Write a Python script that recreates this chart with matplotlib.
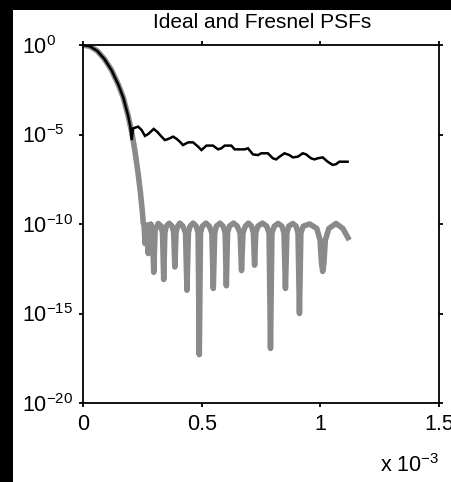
import numpy as np
import matplotlib
matplotlib.use("Agg")
import matplotlib.pyplot as plt
from matplotlib.patches import Rectangle

plt.rcParams['font.family'] = ['Liberation Sans', 'DejaVu Sans']
plt.rcParams['mathtext.default'] = 'regular'

# Radial position (units of 1e-3) and log10 of the normalised intensity
ideal_x = [0.000, 0.030, 0.060, 0.090, 0.120, 0.150, 0.170, 0.190, 0.205,
           0.218, 0.232, 0.242, 0.250, 0.254,
           0.257, 0.262, 0.267, 0.271, 0.275, 0.280, 0.286, 0.292, 0.298,
           0.304, 0.317, 0.329, 0.335, 0.340, 0.345, 0.351, 0.363, 0.375,
           0.382, 0.387, 0.392, 0.399, 0.408, 0.421, 0.432, 0.438, 0.444,
           0.451, 0.464, 0.477, 0.485, 0.490, 0.495, 0.503, 0.518, 0.532,
           0.543, 0.549, 0.555, 0.562, 0.577, 0.590, 0.599, 0.604, 0.609,
           0.617, 0.634, 0.650, 0.662, 0.668, 0.674, 0.684, 0.697, 0.710,
           0.718, 0.723, 0.728, 0.737, 0.756, 0.774, 0.784, 0.790, 0.796,
           0.806, 0.822, 0.838, 0.847, 0.853, 0.859, 0.867, 0.884, 0.898,
           0.906, 0.912, 0.918, 0.928, 0.955, 0.985, 0.999, 1.005, 1.010,
           1.015, 1.021, 1.036, 1.066, 1.095, 1.122]
ideal_log = [0.00, -0.08, -0.33, -0.78, -1.40, -2.25, -2.95, -3.95, -4.85,
             -5.85, -7.15, -8.25, -9.30, -9.95,
             -10.05, -11.10, -10.15, -10.05, -11.65, -10.25, -10.00, -10.30, -12.70,
             -10.35, -9.97, -10.12, -10.50, -13.10, -10.50, -10.12, -9.96, -10.12,
             -10.45, -12.40, -10.45, -10.12, -9.95, -10.12, -10.50, -13.70, -10.50,
             -10.12, -9.95, -10.12, -10.50, -17.30, -10.50, -10.12, -9.95, -10.12,
             -10.50, -13.60, -10.50, -10.12, -9.95, -10.12, -10.50, -13.45, -10.50,
             -10.12, -9.95, -10.12, -10.50, -12.60, -10.50, -10.12, -9.95, -10.12,
             -10.50, -12.30, -10.50, -10.12, -9.95, -10.12, -10.50, -16.95, -10.50,
             -10.12, -9.97, -10.12, -10.50, -13.60, -10.50, -10.12, -9.97, -10.12,
             -10.50, -15.00, -10.50, -10.12, -10.00, -10.25, -10.90, -12.20, -12.65,
             -12.20, -10.90, -10.25, -9.97, -10.25, -10.90]

fresnel_x = [0.000, 0.030, 0.060, 0.090, 0.120, 0.150, 0.170, 0.190, 0.200,
             0.205, 0.211, 0.232, 0.247, 0.261, 0.275, 0.298, 0.312, 0.331,
             0.345, 0.359, 0.380, 0.395, 0.408, 0.421, 0.443, 0.464, 0.485,
             0.499, 0.520, 0.548, 0.569, 0.583, 0.597, 0.625, 0.639, 0.681,
             0.695, 0.716, 0.737, 0.751, 0.779, 0.800, 0.814, 0.828, 0.849,
             0.870, 0.884, 0.905, 0.926, 0.940, 0.961, 0.975, 0.989, 1.010,
             1.031, 1.052, 1.066, 1.080, 1.115]
fresnel_log = [0.00, -0.08, -0.33, -0.78, -1.40, -2.25, -2.95, -3.95, -4.60,
               -5.31, -4.66, -4.56, -4.75, -5.08, -4.97, -4.69, -4.84, -5.12,
               -5.31, -5.25, -5.12, -5.25, -5.40, -5.59, -5.44, -5.44, -5.68,
               -5.87, -5.62, -5.62, -5.83, -5.77, -5.62, -5.62, -5.83, -5.83,
               -5.77, -6.11, -6.15, -6.05, -6.05, -6.33, -6.39, -6.24, -6.05,
               -6.15, -6.28, -6.24, -6.05, -6.11, -6.33, -6.39, -6.33, -6.28,
               -6.52, -6.70, -6.66, -6.52, -6.52]

x_ticks = [0, 0.5, 1, 1.5]
x_tick_labels = ['0', '0.5', '1', '1.5']
y_ticks = [1e0, 1e-5, 1e-10, 1e-15, 1e-20]

W, H = 452, 482
fig = plt.figure(figsize=(W / 100, H / 100), dpi=100, facecolor='white')
ax = fig.add_axes([83 / W, 1 - 403 / H, (439 - 83) / W, (403 - 45) / H])

ax.plot(ideal_x, 10.0 ** np.array(ideal_log), color='#8a8a8a', lw=4.0,
        solid_joinstyle='round', solid_capstyle='butt')
ax.plot(fresnel_x, 10.0 ** np.array(fresnel_log), color='black', lw=1.8,
        solid_joinstyle='miter')

ax.set_yscale('log')
ax.set_xlim(0, 1.5)
ax.set_ylim(1e-20, 1e0)
ax.set_xticks(x_ticks)
ax.set_xticklabels(x_tick_labels)
ax.set_yticks(y_ticks)
ax.yaxis.set_minor_locator(matplotlib.ticker.NullLocator())

for s in ax.spines.values():
    s.set_linewidth(1.3)
ax.tick_params(which='both', direction='out', length=3, width=1.3,
               top=True, right=True, labelsize=15.5, color='black')
ax.tick_params(axis='x', pad=5)
ax.tick_params(axis='y', pad=41)
for lab in ax.get_yticklabels():
    lab.set_horizontalalignment('left')

ax.text(1.0, -0.193, r'x 10$^{-3}$', transform=ax.transAxes,
        ha='right', va='baseline', fontsize=15.5)

fig.text(262 / W, 1 - 28 / H, 'Ideal and Fresnel PSFs', ha='center',
         va='baseline', fontsize=15)

# dark frame along the left and top edges
fig.patches.append(Rectangle((0, 0), 13 / W, 1, transform=fig.transFigure,
                             facecolor='black', edgecolor='none', zorder=-1))
fig.patches.append(Rectangle((0, 1 - 10 / H), 1, 10 / H, transform=fig.transFigure,
                             facecolor='black', edgecolor='none', zorder=-1))

fig.savefig('out.png', dpi=100, facecolor='white')
